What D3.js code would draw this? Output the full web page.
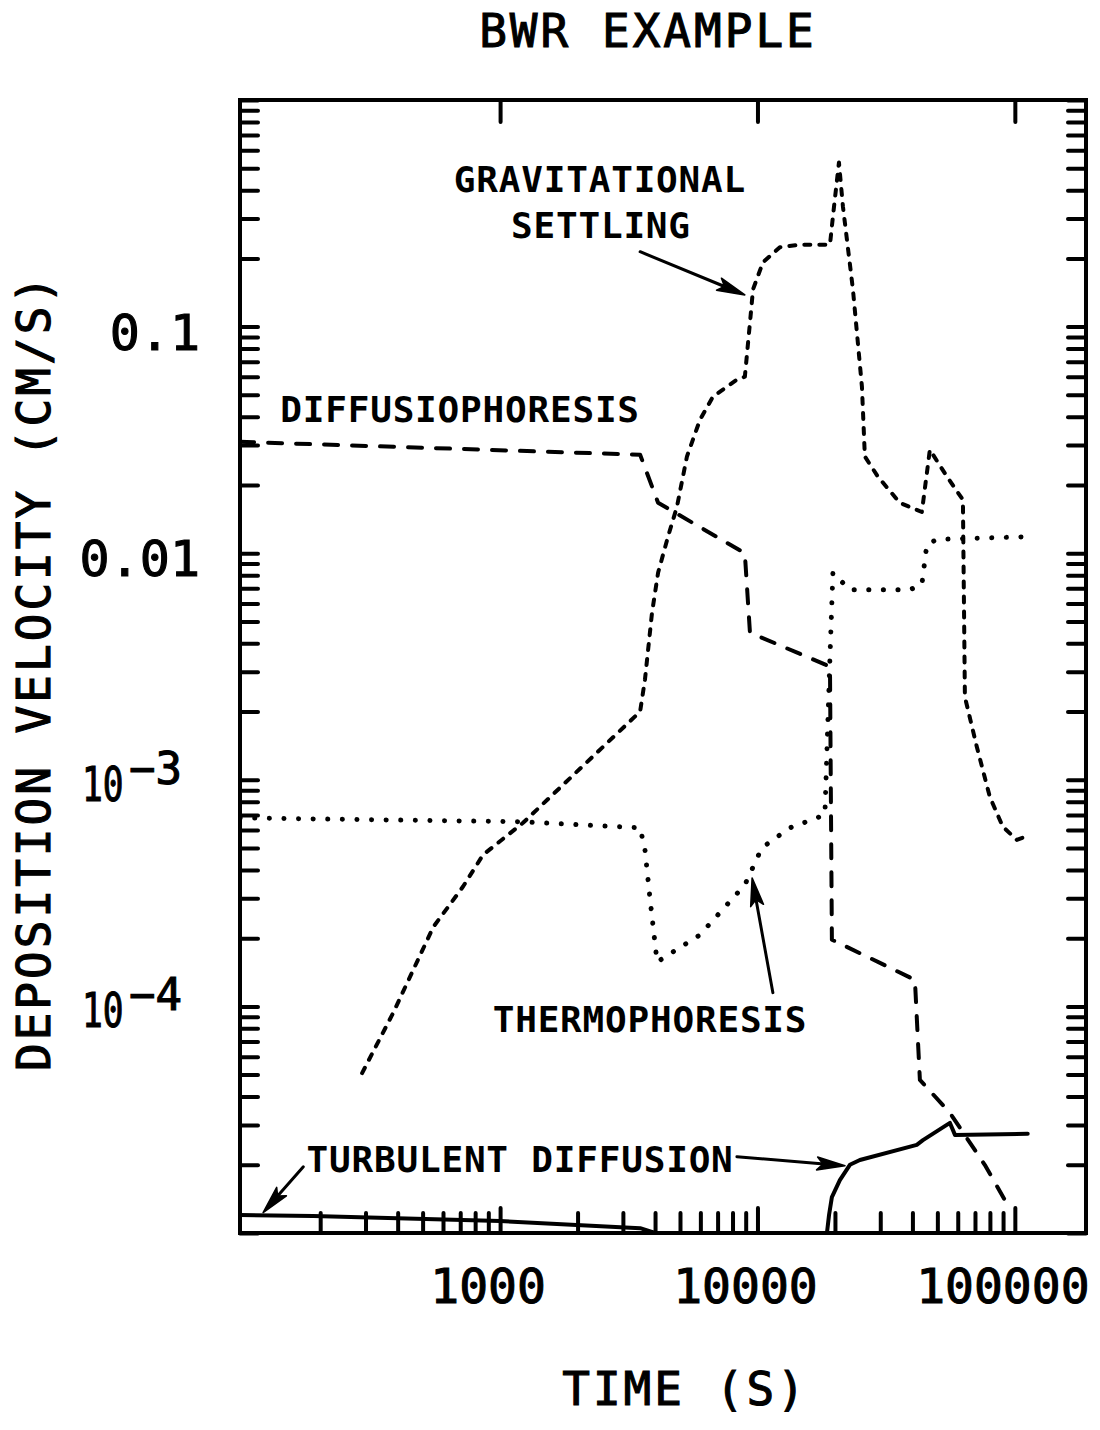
<!DOCTYPE html>
<html>
<head>
<meta charset="utf-8">
<script src="https://cdn.jsdelivr.net/npm/d3@7"></script>
<style>
  html, body { margin: 0; padding: 0; background: #fff; }
  svg { display: block; }
  text { font-family: "DejaVu Sans Mono", "Liberation Mono", monospace; fill: #000; }
  .heavy { stroke: #000; stroke-width: 1.1; }
</style>
</head>
<body>
<svg id="chart" width="1100" height="1430"></svg>
<script>
// ---- Deposition velocity (cm/s) versus time (s), BWR example ----

// Diffusiophoresis (long dashes)
const diffusioTime = [97.7, 3500, 4110, 8930, 9350, 19130, 19460, 40900, 42760, 55950, 76400, 91400];
const diffusioVel  = [0.0310, 0.0272, 0.0167, 0.0100, 0.00446, 0.00316, 1.97e-4, 1.31e-4, 4.74e-5, 3.39e-5, 2.0e-5, 1.40e-5];

// Gravitational settling (short dashes)
const gravTime = [291, 384, 550, 718, 859, 1228, 3500, 3655, 3893, 4110, 4488, 4864, 5320, 5980, 6715, 8318,
                  8933, 9350, 9610, 10500, 12220, 14620, 19130, 19640, 20730, 21480, 23490, 25460, 26140, 29350,
                  35720, 43520, 46750, 54450, 62830, 63970, 71150, 79930, 89800, 101800, 114300];
const gravVel  = [5.08e-5, 9.35e-5, 2.24e-4, 3.38e-4, 4.67e-4, 6.46e-4, 2.0e-3, 2.77e-3, 5.46e-3, 8.20e-3, 0.0118, 0.0160, 0.0267, 0.0388, 0.0491, 0.0583,
                  0.0601, 0.104, 0.146, 0.192, 0.224, 0.230, 0.230, 0.306, 0.530, 0.339, 0.146, 0.0543, 0.0267, 0.0218,
                  0.0167, 0.0152, 0.0286, 0.0218, 0.0172, 2.32e-3, 1.40e-3, 8.41e-4, 6.21e-4, 5.43e-4, 5.71e-4];

// Thermophoresis (dots)
const thermoTime = [97.7, 1196, 3500, 3655, 3828, 4074, 5980, 8933, 10400, 13360, 18280, 19130, 19640, 22860, 39060, 43520, 45500, 49770, 106400];
const thermoVel  = [6.79e-4, 6.53e-4, 6.14e-4, 4.91e-4, 2.95e-4, 1.57e-4, 2.07e-4, 3.44e-4, 5.01e-4, 6.14e-4, 7.0e-4, 3.49e-3, 8.20e-3, 6.90e-3, 6.90e-3, 7.26e-3, 0.0109, 0.0115, 0.0118];

// Turbulent diffusion (solid)
const turbTime = [97.7, 188, 1000, 3500, 4000, 18620, 18970, 19460, 20900, 22860, 25000, 41590, 43950, 55950, 58530, 112200];
const turbVel  = [1.20e-5, 1.19e-5, 1.13e-5, 1.05e-5, 1.0e-5, 1.0e-5, 1.20e-5, 1.44e-5, 1.71e-5, 2.0e-5, 2.10e-5, 2.45e-5, 2.57e-5, 3.06e-5, 2.71e-5, 2.74e-5];

// Tick labels
const xTickValues = [1000, 10000, 100000];
const xTickLabels = ["1000", "10000", "100000"];
const yTickValues = [0.1, 0.01, 0.001, 0.0001];
const yTickBase   = ["0.1", "0.01", "10", "10"];
const yTickExp    = ["", "", "\u22123", "\u22124"];

// Curve annotations (anchored in data units)
const labelText = ["GRAVITATIONAL", "SETTLING", "DIFFUSIOPHORESIS", "THERMOPHORESIS", "TURBULENT DIFFUSION"];
const labelTime = [2443, 2465, 699, 3824, 1196];
const labelVel  = [0.391, 0.247, 0.0381, 7.72e-5, 1.86e-5];

const arrowStartTime = [3500, 11480, 8318, 172];
const arrowStartVel  = [0.214, 1.15e-4, 2.17e-5, 1.96e-5];
const arrowEndTime   = [8933, 9530, 21880, 120];
const arrowEndVel    = [0.138, 3.69e-4, 1.98e-5, 1.23e-5];

// ---- layout ----
const svg = d3.select("#chart");
const plotLeft = 240, plotRight = 1086, plotTop = 100, plotBottom = 1233;

const x = d3.scaleLog().domain([97.6, 189000]).range([plotLeft, plotRight]);
const y = d3.scaleLog().domain([1e-5, 1]).range([plotBottom, plotTop]);

svg.append("defs").append("clipPath").attr("id", "plotClip")
  .append("rect").attr("x", plotLeft).attr("y", plotTop)
  .attr("width", plotRight - plotLeft).attr("height", plotBottom - plotTop);

// ---- axes (ticks point inward) ----
const isMajor = v => Math.abs(Math.log10(v) - Math.round(Math.log10(v))) < 1e-9;
const xAll = x.ticks().filter(v => v > x.domain()[0] && v < x.domain()[1]);
const xMinor = xAll.filter(v => !isMajor(v));
const yAll = y.ticks();

function styleAxis(g) {
  g.select(".domain").remove();
  g.selectAll(".tick line").attr("stroke", "#000").attr("stroke-width", 4).attr("stroke-linecap", "round");
  g.selectAll(".tick text").remove();
}

svg.append("g").attr("transform", `translate(0,${plotBottom})`)
  .call(d3.axisBottom(x).tickValues(xMinor).tickSize(-20).tickFormat(""))
  .call(styleAxis);
svg.append("g").attr("transform", `translate(0,${plotBottom})`)
  .call(d3.axisBottom(x).tickValues(xTickValues).tickSize(-25).tickFormat(""))
  .call(styleAxis);
svg.append("g").attr("transform", `translate(0,${plotTop})`)
  .call(d3.axisTop(x).tickValues(xTickValues).tickSize(-22).tickFormat(""))
  .call(styleAxis);
svg.append("g").attr("transform", `translate(${plotLeft},0)`)
  .call(d3.axisLeft(y).tickValues(yAll).tickSize(-18).tickFormat(""))
  .call(styleAxis);
svg.append("g").attr("transform", `translate(${plotRight},0)`)
  .call(d3.axisRight(y).tickValues(yAll).tickSize(-18).tickFormat(""))
  .call(styleAxis);

// frame
svg.append("rect")
  .attr("x", plotLeft).attr("y", plotTop)
  .attr("width", plotRight - plotLeft).attr("height", plotBottom - plotTop)
  .attr("fill", "none").attr("stroke", "#000").attr("stroke-width", 4);

// ---- tick labels ----
svg.append("g").selectAll("text").data(xTickValues).join("text")
  .attr("class", "heavy")
  .attr("x", d => x(d) - 12).attr("y", plotBottom + 70)
  .attr("text-anchor", "middle").attr("font-size", 48)
  .text((d, i) => xTickLabels[i]);

yTickValues.forEach((v, i) => {
  if (yTickExp[i] === "") {
    svg.append("text")
      .attr("class", "heavy")
      .attr("x", 200).attr("y", y(v) + 23)
      .attr("text-anchor", "end").attr("font-size", 50)
      .text(yTickBase[i]);
  } else {
    // narrow base "10" followed by a raised exponent
    svg.append("text")
      .attr("class", "heavy")
      .attr("transform", `translate(82,${y(v) + 21}) scale(0.72,1)`)
      .attr("font-size", 48)
      .text(yTickBase[i]);
    svg.append("text")
      .attr("class", "heavy")
      .attr("x", 129).attr("y", y(v) + 4)
      .attr("font-family", "'DejaVu Sans', sans-serif")
      .attr("font-size", 44)
      .text(yTickExp[i]);
  }
});

// ---- titles ----
svg.append("text").attr("class", "heavy").attr("x", 648).attr("y", 47)
  .attr("text-anchor", "middle").attr("font-size", 46).attr("letter-spacing", 3)
  .text("BWR EXAMPLE");
svg.append("text").attr("class", "heavy").attr("x", 685).attr("y", 1405)
  .attr("text-anchor", "middle").attr("font-size", 46).attr("letter-spacing", 3)
  .text("TIME (S)");
svg.append("text").attr("class", "heavy").attr("transform", "translate(50,672) rotate(-90)")
  .attr("text-anchor", "middle").attr("font-size", 46).attr("letter-spacing", 3)
  .text("DEPOSITION VELOCITY (CM/S)");

// ---- curves ----
const line = d3.line().x(d => x(d[0])).y(d => y(d[1]));
const zip = (a, b) => a.map((v, i) => [v, b[i]]);

const series = [
  { pts: zip(diffusioTime, diffusioVel), dash: "14,14", width: 4 },
  { pts: zip(gravTime, gravVel), dash: "6,9", width: 4 },
  { pts: zip(thermoTime, thermoVel), dash: "0.1,14.5", width: 5 },
  { pts: zip(turbTime, turbVel), dash: null, width: 4 }
];

const plot = svg.append("g").attr("clip-path", "url(#plotClip)");
series.forEach(s => {
  plot.append("path")
    .attr("d", line(s.pts))
    .attr("fill", "none").attr("stroke", "#000")
    .attr("stroke-width", s.width)
    .attr("stroke-linecap", "round").attr("stroke-linejoin", "round")
    .attr("stroke-dasharray", s.dash);
});

// ---- annotations ----
svg.append("g").selectAll("text").data(labelText).join("text")
  .attr("x", (d, i) => x(labelTime[i])).attr("y", (d, i) => y(labelVel[i]))
  .attr("text-anchor", "middle").attr("font-size", 36).attr("font-weight", "bold")
  .attr("letter-spacing", 0.8)
  .text(d => d);

const arrows = svg.append("g");
arrowStartTime.forEach((t0, i) => {
  const x0 = x(t0), y0 = y(arrowStartVel[i]);
  const x1 = x(arrowEndTime[i]), y1 = y(arrowEndVel[i]);
  const dx = x1 - x0, dy = y1 - y0, len = Math.hypot(dx, dy);
  const ux = dx / len, uy = dy / len;
  const headL = 28, headW = 6.5;
  const bx = x1 - ux * headL, by = y1 - uy * headL;
  arrows.append("line")
    .attr("x1", x0).attr("y1", y0).attr("x2", bx + ux * 4).attr("y2", by + uy * 4)
    .attr("stroke", "#000").attr("stroke-width", 3).attr("stroke-linecap", "round");
  arrows.append("path")
    .attr("d", `M${x1},${y1}L${bx - uy * headW},${by + ux * headW}L${bx + ux * 6},${by + uy * 6}L${bx + uy * headW},${by - ux * headW}Z`)
    .attr("fill", "#000").attr("stroke", "#000").attr("stroke-width", 1.5).attr("stroke-linejoin", "round");
});
</script>
</body>
</html>
